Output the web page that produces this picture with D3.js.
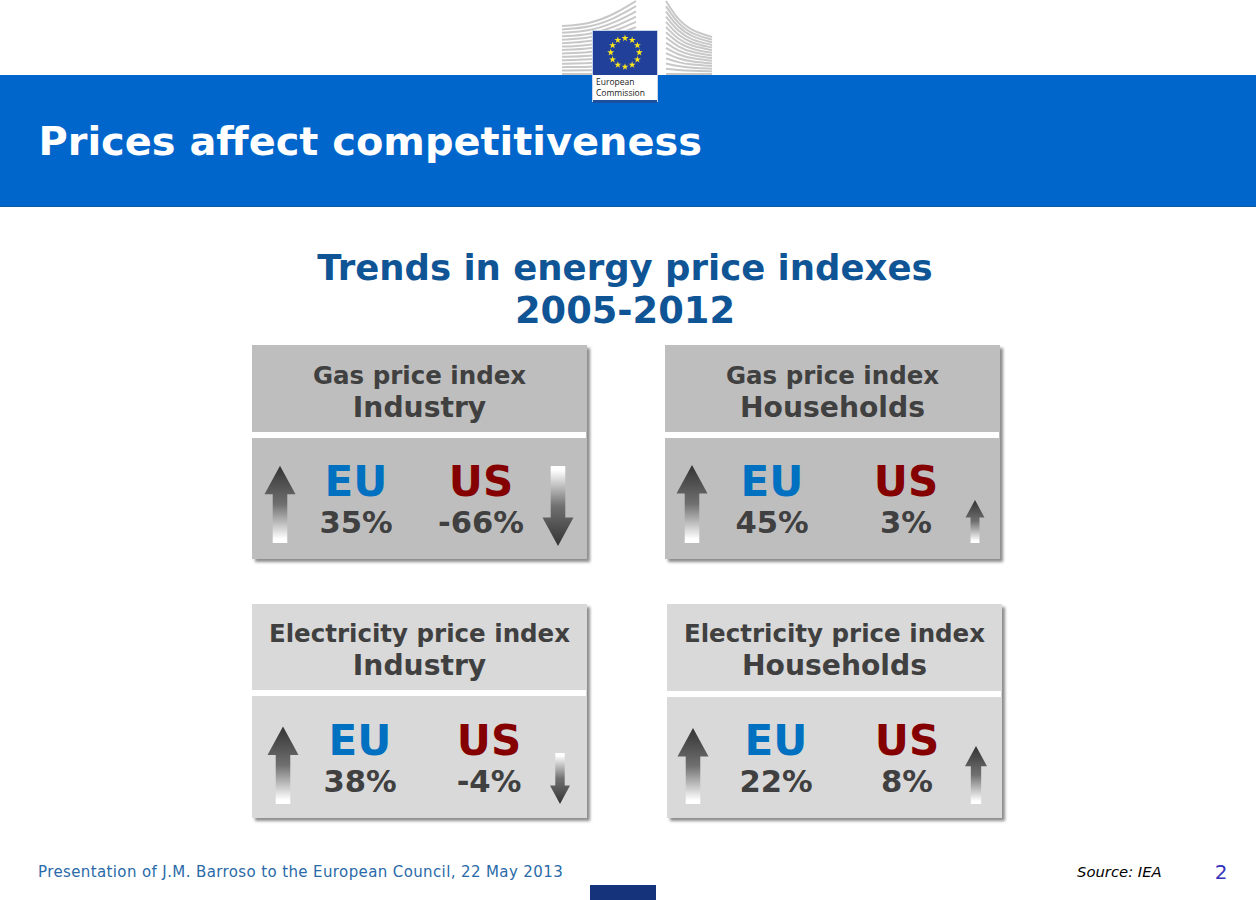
<!DOCTYPE html>
<html>
<head>
<meta charset="utf-8">
<script src="https://cdn.jsdelivr.net/npm/d3@7"></script>
<style>
  html, body { margin: 0; padding: 0; background: #fff; }
  svg { display: block; font-family: "DejaVu Sans", sans-serif; }
</style>
</head>
<body>
<svg id="slide"></svg>
<script>
// data
const slideTitle = "Prices affect competitiveness";
const chartTitle = ["Trends in energy price indexes", "2005-2012"];
const panelTitles = ["Gas price index", "Gas price index", "Electricity price index", "Electricity price index"];
const sectors = ["Industry", "Households", "Industry", "Households"];
const euChange = [35, 45, 38, 22];
const usChange = [-66, 3, -4, 8];
const footerText = "Presentation of J.M. Barroso to the European Council, 22 May 2013";
const sourceText = "Source: IEA";
const pageNumber = "2";

// layout of each panel, same order as the lists above
const panelLayout = [
  {x: 252, y: 345, headH: 87, euX: 356, usX: 481, arrowL: 280, arrowR: 558, fill: "#bebebe", bottomY: 543, tipY: 546, textUp: 0},
  {x: 665, y: 345, headH: 87, euX: 772, usX: 906, arrowL: 692, arrowR: 975, fill: "#bebebe", bottomY: 543, tipY: 546, textUp: 0},
  {x: 252, y: 604, headH: 86, euX: 360, usX: 489, arrowL: 283, arrowR: 560, fill: "#d9d9d9", bottomY: 804, tipY: 804, textUp: 1},
  {x: 667, y: 604, headH: 87, euX: 776, usX: 907, arrowL: 693, arrowR: 976, fill: "#d9d9d9", bottomY: 804, tipY: 804, textUp: 1}
];

const [sizeX, sizeY] = [1256, 900];
const panelW = 335, panelH = 214;
const textColor = "#404040";

// arrows are not to scale on the slide, so a piecewise scale
const arrowLength = d3.scaleLinear().domain([3, 4, 8, 22, 66]).range([43, 51, 58, 76, 80]);
const arrowWidth = d3.scaleLinear().domain([3, 4, 8, 22, 66]).range([19, 20, 22, 31, 31]);

const svg = d3.select("#slide").attr("width", sizeX).attr("height", sizeY)
  .attr("viewBox", `0 0 ${sizeX} ${sizeY}`);
const defs = svg.append("defs");

const shadow = defs.append("filter").attr("id", "shadow")
  .attr("x", "-5%").attr("y", "-5%").attr("width", "110%").attr("height", "110%");
shadow.append("feDropShadow").attr("dx", 3).attr("dy", 3).attr("stdDeviation", 1.8)
  .attr("flood-color", "#000").attr("flood-opacity", 0.45);

function addGradient(id, stops) {
  const g = defs.append("linearGradient").attr("id", id)
    .attr("x1", 0).attr("y1", 0).attr("x2", 0).attr("y2", 1);
  stops.forEach(s => g.append("stop").attr("offset", s[0]).attr("stop-color", s[1]));
}
addGradient("arrowUp", [["0%", "#333333"], ["50%", "#707070"], ["95%", "#ffffff"], ["100%", "#ffffff"]]);
addGradient("arrowDown", [["0%", "#ffffff"], ["5%", "#ffffff"], ["50%", "#707070"], ["100%", "#333333"]]);

drawLogoBuilding();

// header band
svg.append("rect").attr("x", 0).attr("y", 75).attr("width", sizeX).attr("height", 132).attr("fill", "#0066cc");
svg.append("rect").attr("x", 0).attr("y", 206).attr("width", sizeX).attr("height", 1).attr("fill", "#0b5aa8");
svg.append("text").attr("x", 38.5).attr("y", 154.5)
  .attr("font-size", 39.9).attr("font-weight", "bold").attr("fill", "#fff").text(slideTitle);

drawLogoFlag();

svg.selectAll("text.chartTitle")
  .data(chartTitle)
  .enter()
  .append("text")
  .attr("class", "chartTitle")
  .attr("x", 625)
  .attr("y", (d, i) => 279.5 + i * 43)
  .attr("text-anchor", "middle")
  .attr("font-size", (d, i) => i === 0 ? 35.5 : 36.8)
  .attr("font-weight", "bold")
  .attr("fill", "#0f5596")
  .text(d => d);

panelLayout.forEach((p, i) => drawPanel(p, i));

// footer
svg.append("text").attr("x", 38).attr("y", 877).attr("font-size", 15).attr("letter-spacing", 0.385)
  .attr("fill", "#2a6aa8").text(footerText);
svg.append("text").attr("x", 1077).attr("y", 877).attr("font-size", 14.8).attr("font-style", "italic")
  .attr("fill", "#000").text(sourceText);
svg.append("text").attr("x", 1221).attr("y", 879).attr("text-anchor", "middle").attr("font-size", 20)
  .attr("fill", "#3333bb").text(pageNumber);
svg.append("rect").attr("x", 590).attr("y", 885).attr("width", 66).attr("height", 15).attr("fill", "#14337a");

function drawPanel(p, i) {
  const g = svg.append("g").attr("transform", `translate(${p.x},${p.y})`);
  g.append("rect").attr("width", panelW).attr("height", panelH).attr("fill", p.fill)
    .attr("filter", "url(#shadow)");
  g.append("rect").attr("y", p.headH).attr("width", panelW - 1).attr("height", 6).attr("fill", "#fff");

  g.append("text").attr("x", panelW / 2).attr("y", 39 - p.textUp).attr("text-anchor", "middle")
    .attr("font-size", 24.5).attr("font-weight", "bold").attr("fill", textColor).text(panelTitles[i]);
  g.append("text").attr("x", panelW / 2).attr("y", 72 - p.textUp).attr("text-anchor", "middle")
    .attr("font-size", 28.2).attr("font-weight", "bold").attr("fill", textColor).text(sectors[i]);

  drawFigure(g, p.euX - p.x, "EU", "#0070c0", euChange[i]);
  drawFigure(g, p.usX - p.x, "US", "#850000", usChange[i]);

  drawArrow(p.arrowL, p, euChange[i]);
  drawArrow(p.arrowR, p, usChange[i]);
}

function drawFigure(parent, x, label, color, value) {
  parent.append("text").attr("x", x).attr("y", 150.5).attr("text-anchor", "middle")
    .attr("font-size", 42).attr("font-weight", "bold").attr("fill", color).text(label);
  parent.append("text").attr("x", x).attr("y", 188).attr("text-anchor", "middle")
    .attr("font-size", 30.6).attr("font-weight", "bold").attr("fill", textColor).text(`${value}%`);
}

function drawArrow(cx, p, value) {
  const size = Math.abs(value);
  const len = arrowLength(size), w = arrowWidth(size);
  const shaft = w * 0.47, head = w * 0.92;
  const up = value > 0;
  const top = (up ? p.bottomY : p.tipY) - len;
  const bottom = top + len;
  const pts = up
    ? [[cx, top], [cx + w / 2, top + head], [cx + shaft / 2, top + head], [cx + shaft / 2, bottom],
       [cx - shaft / 2, bottom], [cx - shaft / 2, top + head], [cx - w / 2, top + head]]
    : [[cx - shaft / 2, top], [cx + shaft / 2, top], [cx + shaft / 2, bottom - head],
       [cx + w / 2, bottom - head], [cx, bottom], [cx - w / 2, bottom - head],
       [cx - shaft / 2, bottom - head]];
  svg.append("path")
    .attr("d", d3.line()(pts) + "Z")
    .attr("fill", up ? "url(#arrowUp)" : "url(#arrowDown)");
}

function drawLogoBuilding() {
  const wing = svg.append("g").attr("fill", "none").attr("stroke", "#c8c8c8").attr("stroke-width", 2);
  const curve = d3.line().curve(d3.curveBasis);
  d3.range(0, 15).forEach(k => {
    const t = k / 14;
    const lerp = (a, b) => a + (b - a) * t;
    wing.append("path").attr("d", curve([
      [562, lerp(26, 74)], [590, lerp(24, 74)], [615, lerp(14, 74)], [636, lerp(1, 74)]
    ]));
    wing.append("path").attr("d", curve([
      [666, lerp(1, 74)], [678, lerp(20, 74)], [692, lerp(31, 74)], [712, lerp(37, 74)]
    ]));
  });
}

function drawLogoFlag() {
  svg.append("rect").attr("x", 592).attr("y", 30).attr("width", 66).attr("height", 72).attr("fill", "#c9d3ea");
  svg.append("rect").attr("x", 593).attr("y", 31).attr("width", 64).attr("height", 44).attr("fill", "#21409a");
  svg.append("rect").attr("x", 593).attr("y", 75).attr("width", 64).attr("height", 25).attr("fill", "#fff");
  svg.append("rect").attr("x", 593).attr("y", 100).attr("width", 64).attr("height", 3).attr("fill", "#1d4f9f");

  const star = d3.symbol().type(d3.symbolStar).size(15);
  d3.range(12).forEach(k => {
    const a = k / 12 * 2 * Math.PI;
    svg.append("path").attr("d", star())
      .attr("transform", `translate(${625 + 14.3 * Math.sin(a)},${52.5 - 14.3 * Math.cos(a)})`)
      .attr("fill", "#ffe81a");
  });

  svg.selectAll("text.logo")
    .data(["European", "Commission"])
    .enter()
    .append("text")
    .attr("class", "logo")
    .attr("x", 596)
    .attr("y", (d, i) => 85 + i * 11)
    .attr("font-family", "'Open Sans', sans-serif")
    .attr("font-size", 8.5)
    .attr("fill", "#222")
    .text(d => d);
}
</script>
</body>
</html>
